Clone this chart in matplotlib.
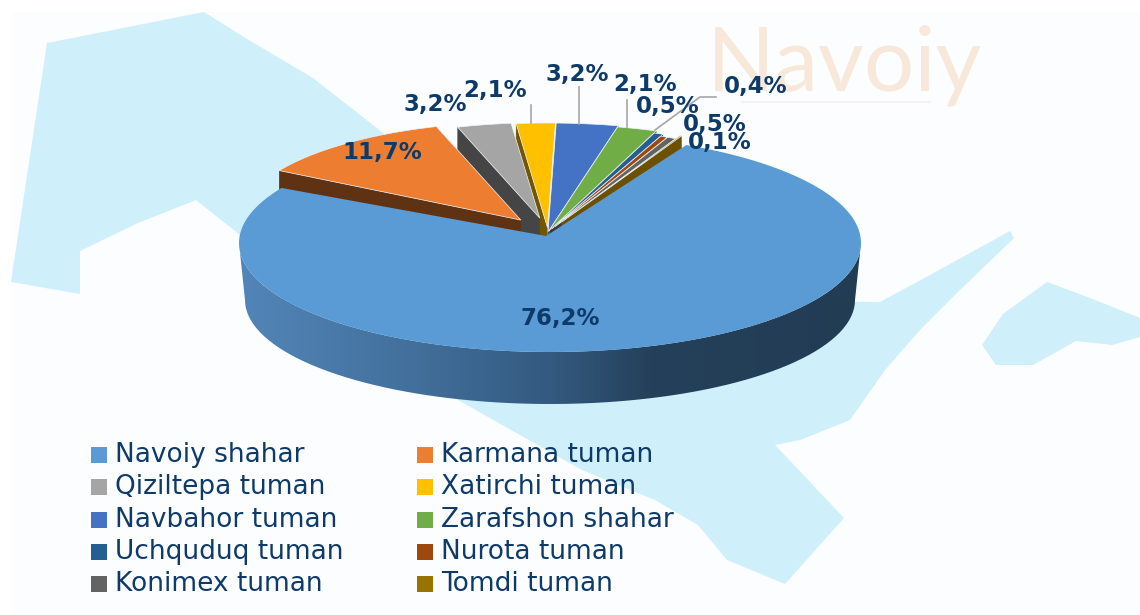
import numpy as np
import matplotlib
matplotlib.use('Agg')
import matplotlib.pyplot as plt
from matplotlib.colors import LinearSegmentedColormap, to_rgb
from matplotlib.patches import Polygon, Rectangle

names = ['Navoiy shahar', 'Karmana tuman', 'Qiziltepa tuman', 'Xatirchi tuman', 'Navbahor tuman',
         'Zarafshon shahar', 'Uchquduq tuman', 'Nurota tuman', 'Konimex tuman', 'Tomdi tuman']
values = [76.2, 11.7, 3.2, 2.1, 3.2, 2.1, 0.5, 0.4, 0.5, 0.1]
colors = ['#5b9bd5', '#ed7d31', '#a5a5a5', '#ffc000', '#4472c4',
          '#70ad47', '#255e91', '#9e480e', '#636363', '#997300']

# slice look: explosion, radius scale, how dark the cut faces are
explode = [0.0, 0.14, 0.13, 0.04, 0.0, 0.01, 0.02, 0.03, 0.05, 0.10]
scale = [1.0, 0.90, 0.875, 0.96, 1.0, 0.98, 0.95, 0.92, 0.90, 0.88]
shade = [1.0, 0.40, 0.42, 0.45, 0.70, 0.60, 0.60, 0.60, 0.60, 0.70]
draw_order = [3, 2, 1, 4, 5, 6, 7, 8, 9]

# label anchor points in picture pixels
label_xy = [(560, 319), (382, 152), (435, 105), (495, 91), (577, 75),
            (645, 85), (668, 106), (756, 86), (715, 125), (720, 143)]

# background map outline (decoration only)
map_main = [(47, 43), (204, 12), (247, 39), (313, 78), (378, 129), (500, 230), (700, 300), (880, 302),
            (930, 275), (1010, 231), (1014, 238), (960, 290), (920, 330), (885, 370), (850, 420),
            (800, 440), (775, 445), (844, 518), (785, 584), (727, 560), (698, 525), (655, 500),
            (582, 470), (458, 400), (300, 330), (240, 235), (196, 200), (138, 223), (80, 251),
            (80, 294), (11, 282)]
map_east = [(982, 345), (1003, 314), (1047, 282), (1090, 298), (1140, 318), (1140, 337),
            (1112, 345), (1076, 341), (1033, 365), (996, 365)]

W, H = 1140, 615
A, B = 311, 109
CX, CY = 550, 243
BASE_X, BASE_Y = 548, 232
DEPTH_Y, BOTTOM_A, BOTTOM_B = 57, 305, 104
START = 26
INK = '#0e3a6a'


def arc(cx, cy, a, b, t0, t1, n=80):
    t = np.radians(np.linspace(t0, t1, n))
    return np.column_stack([cx + a * np.sin(t), cy - b * np.cos(t)])


def darker(col, f):
    return tuple(c * f for c in to_rgb(col))


plt.rcParams['font.family'] = ['DejaVu Sans']
fig = plt.figure(figsize=(W / 100, H / 100), dpi=100, facecolor='white')
ax = fig.add_axes([0, 0, 1, 1])
ax.axis('off')

ax.add_patch(Rectangle((12, 12), W, H, fc='#fcfdfe', ec='none', zorder=0))
ax.add_patch(Polygon(map_main, fc='#cfeffb', ec='none', zorder=1))
ax.add_patch(Polygon(map_east, fc='#cfeffb', ec='none', zorder=1))
ax.text(845, 66, 'Navoiy', family='Lato', fontsize=64, color='#f8e8da', ha='center', va='center', zorder=2)
ax.plot([742, 930], [102, 102], color='#f9edf0', lw=1.2, zorder=2)

edges = START + np.cumsum([0] + [v * 3.6 for v in values])
z = 10

# exploded slices, back to front
for i in draw_order:
    t0, t1 = edges[i], edges[i + 1]
    mid = np.radians((t0 + t1) / 2)
    x0 = BASE_X + explode[i] * A * np.sin(mid)
    y0 = BASE_Y - explode[i] * B * np.cos(mid)
    a, b = A * scale[i], B * scale[i]
    top = arc(x0, y0, a, b, t0, t1, 30)
    side = darker(colors[i], shade[i])
    # cut face on the side that looks at the viewer, then the rim
    p = top[0] if np.sin(mid) < 0 else top[-1]
    face = [(x0, y0), tuple(p), (p[0], p[1] + 50), (x0, y0 + 50)]
    ax.add_patch(Polygon(face, fc=side, ec=side, lw=0.3, zorder=z))
    ax.add_patch(Polygon([(x0, y0)] + [tuple(q) for q in top], fc=colors[i], ec='#eef3f8', lw=0.5, zorder=z + 1))
    z += 2

# big slice wall with the left-to-right shading
wall_top = arc(CX, CY, A, B, 90, 270)
wall_bot = arc(CX, CY + DEPTH_Y, BOTTOM_A, BOTTOM_B, 270, 90)
wall = Polygon(np.vstack([wall_top, wall_bot]), fc='none', ec='none', zorder=z)
ax.add_patch(wall)
cmap = LinearSegmentedColormap.from_list('wall', [(0, '#5285b8'), (0.25, '#44729f'), (0.5, '#335a80'),
                                                  (0.66, '#25405a'), (1, '#223c54')])
im = ax.imshow(np.linspace(0, 1, 256).reshape(1, -1), cmap=cmap, extent=(240, 862, 410, 240),
               aspect='auto', zorder=z)
im.set_clip_path(wall)
z += 1

# big slice top, its point sits at the common centre
top = arc(CX, CY, A, B, edges[0], edges[1], 200)
ax.add_patch(Polygon(np.vstack([[(BASE_X - 2, BASE_Y + 4)], top]), fc=colors[0], ec='none', zorder=z))
z += 1

# leader lines
leader = '#a6a6a6'
for xs, ys in [([531, 531], [105, 123]), ([579, 579], [87, 124]), ([627, 627], [100, 127]),
               ([716, 700, 655], [97, 97, 130])]:
    ax.plot(xs, ys, color=leader, lw=1.2, zorder=z)

for i, v in enumerate(values):
    txt = f'{v:.1f}%'.replace('.', ',')
    ax.text(label_xy[i][0], label_xy[i][1], txt, color=INK, fontsize=16.5, fontweight='bold',
            ha='center', va='center', zorder=z + 1)

# legend, filled row by row
for i, name in enumerate(names):
    col, row = i % 2, i // 2
    x = 91 + col * 326
    y = 455 + row * 32.3
    ax.add_patch(Rectangle((x, y - 8), 16, 16, fc=colors[i], ec='none', zorder=z))
    ax.text(x + 24, y, name, color=INK, fontsize=19, ha='left', va='center', zorder=z)

ax.set_xlim(0, W)
ax.set_ylim(H, 0)
fig.savefig('out.png', dpi=100, facecolor='white')
